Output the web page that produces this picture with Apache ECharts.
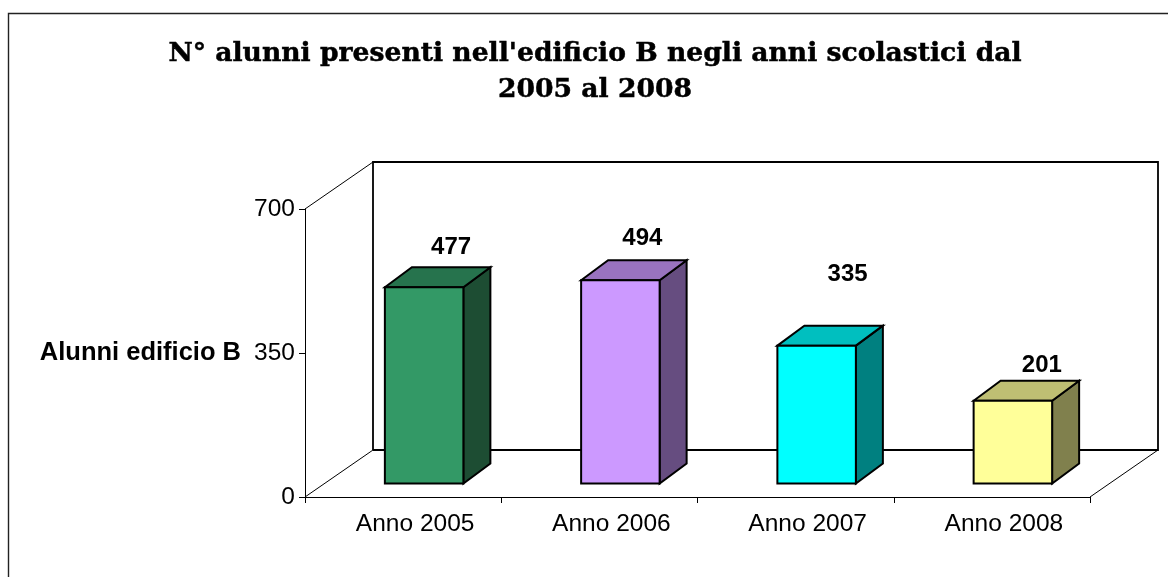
<!DOCTYPE html>
<html>
<head>
<meta charset="utf-8">
<title>Alunni edificio B</title>
<style>
  html, body { margin: 0; padding: 0; background: #fff; }
  #chart { width: 1168px; height: 577px; }
</style>
<script src="https://cdn.jsdelivr.net/npm/echarts@6/dist/echarts.min.js"></script>
</head>
<body>
<div id="chart"></div>
<script>
// dati
var categories = ['Anno 2005', 'Anno 2006', 'Anno 2007', 'Anno 2008']
var alunni = [477, 494, 335, 201]
var yTicks = [0, 350, 700]

// colori delle facce: fronte, sopra, lato
var frontColors = ['#339966', '#cc99ff', '#00ffff', '#ffff99']
var topColors = ['#26734d', '#9973bf', '#00bfbf', '#bfbf73']
var sideColors = ['#1d4d33', '#664d80', '#008080', '#80804d']

// scostamento delle etichette rispetto al centro della cima della barra
var labelOffsetX = [27, 22, 31, 29]
var labelOffsetY = [-40, -42, -71, -35]

// prospettiva finta 3D
var WALL_DX = 68
var WALL_DY = -47
var BAR_DX = 27
var BAR_DY = -20
var BAR_SHIFT_X = 21
var BAR_SHIFT_Y = -13.5
var BAR_WIDTH = 78.5
var STROKE = '#000'

var chart = echarts.init(document.getElementById('chart'))

function poly(points, fill, width) {
  return {
    type: 'polygon',
    shape: { points: points },
    style: { fill: fill, stroke: STROKE, lineWidth: width, lineJoin: 'miter' }
  }
}

function line(points, width) {
  return {
    type: 'polyline',
    shape: { points: points },
    style: { fill: null, stroke: STROKE, lineWidth: width }
  }
}

// pareti di fondo e pavimento
function renderWall(params) {
  var c = params.coordSys
  var l = c.x
  var r = c.x + c.width
  var t = c.y
  var b = c.y + c.height
  var dx = WALL_DX
  var dy = WALL_DY
  return {
    type: 'group',
    children: [
      line([[l, t], [l + dx, t + dy]], 1),
      line([[l, b], [l + dx, b + dy]], 1),
      line([[r, b], [r + dx, b + dy]], 1),
      line([[l + dx, b + dy], [l + dx, t + dy], [r + dx, t + dy], [r + dx, b + dy], [l + dx, b + dy]], 1.8)
    ]
  }
}

function renderBar(params, api) {
  var i = api.value(0)
  var top = api.coord([i, api.value(1)])
  var base = api.coord([i, 0])
  var x0 = top[0] + BAR_SHIFT_X - BAR_WIDTH / 2
  var x1 = x0 + BAR_WIDTH
  var y0 = top[1] + BAR_SHIFT_Y
  var y1 = base[1] + BAR_SHIFT_Y
  return {
    type: 'group',
    children: [
      poly([[x1, y0], [x1 + BAR_DX, y0 + BAR_DY], [x1 + BAR_DX, y1 + BAR_DY], [x1, y1]], sideColors[i], 2),
      poly([[x0, y0], [x0 + BAR_DX, y0 + BAR_DY], [x1 + BAR_DX, y0 + BAR_DY], [x1, y0]], topColors[i], 2),
      poly([[x0, y0], [x1, y0], [x1, y1], [x0, y1]], frontColors[i], 2),
      {
        type: 'text',
        style: {
          text: String(api.value(1)),
          x: (x0 + x1) / 2 + labelOffsetX[i],
          y: y0 + labelOffsetY[i],
          align: 'center',
          verticalAlign: 'middle',
          fill: '#000',
          font: 'bold 24px "Liberation Sans", Arial, sans-serif'
        }
      }
    ]
  }
}

chart.setOption({
  animation: false,
  backgroundColor: '#fff',
  title: {
    text: "N° alunni presenti nell'edificio B negli anni scolastici dal\n2005 al 2008",
    left: 590,
    top: 31,
    textAlign: 'center',
    textStyle: {
      fontFamily: '"DejaVu Serif", serif',
      fontWeight: 'bold',
      fontSize: 26.6,
      lineHeight: 36,
      color: '#000',
      textBorderColor: '#000',
      textBorderWidth: 0.5
    }
  },
  grid: { left: 305, top: 209, width: 785, height: 288, outerBoundsMode: 'none' },
  xAxis: {
    type: 'category',
    data: categories,
    axisLine: { lineStyle: { color: '#000', width: 1 } },
    axisTick: { show: true, length: 6, lineStyle: { color: '#000' } },
    axisLabel: {
      margin: 15,
      color: '#000',
      fontSize: 24.5,
      padding: [0, 0, 0, 24],
      fontFamily: '"Liberation Sans", Arial, sans-serif'
    }
  },
  yAxis: {
    type: 'value',
    min: yTicks[0],
    max: yTicks[yTicks.length - 1],
    interval: yTicks[1] - yTicks[0],
    name: 'Alunni edificio B',
    nameLocation: 'middle',
    nameRotate: 0,
    nameGap: 64,
    nameTextStyle: {
      color: '#000',
      fontSize: 25.5,
      fontWeight: 'bold',
      fontFamily: '"Liberation Sans", Arial, sans-serif'
    },
    splitLine: { show: false },
    axisLine: { show: true, lineStyle: { color: '#000', width: 1 } },
    axisTick: { show: true, length: 6, lineStyle: { color: '#000' } },
    axisLabel: {
      margin: 10,
      color: '#000',
      fontSize: 24.5,
      fontFamily: '"Liberation Sans", Arial, sans-serif'
    }
  },
  graphic: [{
    type: 'polyline',
    silent: true,
    shape: { points: [[8.5, 577], [8.5, 13.5], [1168, 13.5]] },
    style: { fill: null, stroke: '#222', lineWidth: 1.4 }
  }],
  series: [
    {
      type: 'custom',
      coordinateSystem: 'cartesian2d',
      silent: true,
      clip: false,
      z: 1,
      data: [[0, 0]],
      renderItem: renderWall
    },
    {
      type: 'custom',
      coordinateSystem: 'cartesian2d',
      clip: false,
      z: 2,
      encode: { x: 0, y: 1 },
      data: alunni.map(function(v, i) { return [i, v] }),
      renderItem: renderBar
    }
  ]
})
</script>
</body>
</html>
